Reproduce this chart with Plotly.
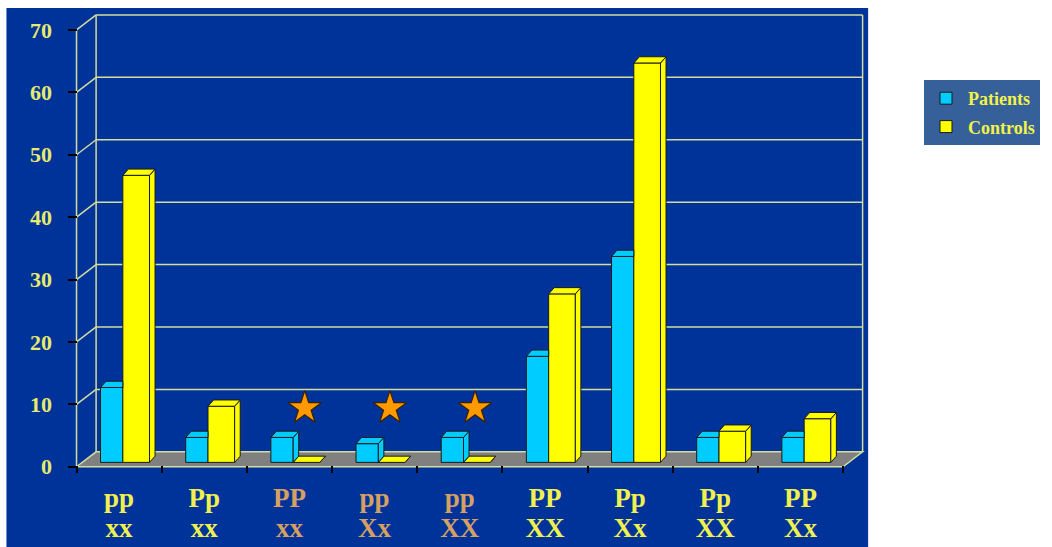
import plotly.graph_objects as go

# ---- data -------------------------------------------------------------
genotype_p = ["pp", "Pp", "PP", "pp", "pp", "PP", "Pp", "Pp", "PP"]
genotype_x = ["xx", "xx", "xx", "Xx", "XX", "XX", "Xx", "XX", "Xx"]
patients = [12, 4, 4, 3, 4, 17, 33, 4, 4]
controls = [46, 9, 0, 0, 0, 27, 64, 5, 7]
significant = [2, 3, 4]          # categories marked with a star
y_ticks = [0, 10, 20, 30, 40, 50, 60, 70]

# ---- styling / geometry ----------------------------------------------
PANEL = "#003399"
GRID = "#D2DE9E"
FLOOR = "#808080"
CYAN = "#00CCFF"
YELLOW = "#FFFF00"
EDGE = "#1A1A1A"
LABEL = "#F0F04E"
LABEL_ALT = "#D6A062"
AXIS_LABEL = "#E6EA6E"
FONT = "Liberation Serif"

W, H = 1052, 547
X0PX, CATPX = 77.0, 85.1      # pixel of x=-0.5, pixels per category
Y0PX, UNITPX = 466.7, 6.24    # pixel of y=0, pixels per unit
DX, DY = 0.23, 2.4            # depth of the floor / walls (data units)
BDX, BDY = 0.065, 1.0         # depth of each column
BASE = 0.7                    # columns stand a little behind the front edge
P_OFF, P_W = -0.218, 0.262
C_OFF, C_W = 0.044, 0.313

n = len(patients)
idx = list(range(n))
xr = [-0.6, n - 0.5 + DX + 0.04]
yr = [-1.0, max(y_ticks) + DY + 0.15]
left = X0PX + (xr[0] + 0.5) * CATPX
right = X0PX + (xr[1] + 0.5) * CATPX
bottom = Y0PX - yr[0] * UNITPX
top = Y0PX - yr[1] * UNITPX


def px_to_paper_x(px):
    return (px - left) / (right - left)


def px_to_paper_y(py):
    return (bottom - py) / (bottom - top)


fig = go.Figure()

# front faces of the columns
fig.add_trace(go.Bar(
    x=idx, y=patients, base=BASE, offset=P_OFF, width=P_W, name="Patients",
    marker=dict(color=CYAN, line=dict(color=EDGE, width=1)),
    legendgroup="p", hoverinfo="skip"))
fig.add_trace(go.Bar(
    x=idx, y=controls, base=BASE, offset=C_OFF, width=C_W, name="Controls",
    marker=dict(color=YELLOW, line=dict(color=EDGE, width=1)),
    legendgroup="c", hoverinfo="skip"))


def faces(values, off, width, hidden_by=None):
    tx, ty, sx, sy = [], [], [], []
    for i, v in enumerate(values):
        xl = i + off
        xrr = xl + width
        t = BASE + v
        covered = hidden_by is not None and hidden_by[i] >= v
        if covered:
            tx += [xl, xrr, xrr, xl + BDX, xl, None]
            ty += [t, t, t + BDY, t + BDY, t, None]
        else:
            tx += [xl, xrr, xrr + BDX, xl + BDX, xl, None]
            ty += [t, t, t + BDY, t + BDY, t, None]
            sx += [xrr, xrr + BDX, xrr + BDX, xrr, xrr, None]
            sy += [BASE, BASE + BDY, t + BDY, t, BASE, None]
    return tx, ty, sx, sy


def add_faces(values, off, width, color, hidden_by=None):
    tx, ty, sx, sy = faces(values, off, width, hidden_by)
    for xs, ys in ((sx, sy), (tx, ty)):
        if xs:
            fig.add_trace(go.Scatter(
                x=xs, y=ys, mode="lines", fill="toself", fillcolor=color,
                line=dict(color=EDGE, width=1), showlegend=False,
                hoverinfo="skip"))


add_faces(controls, C_OFF, C_W, YELLOW)
add_faces(patients, P_OFF, P_W, CYAN, hidden_by=controls)

# significance stars
fig.add_trace(go.Scatter(
    x=[i + 0.18 for i in significant], y=[9.4] * len(significant),
    mode="markers", showlegend=False, hoverinfo="skip",
    marker=dict(symbol="star", size=25, color="#FF9900",
                line=dict(color="#3A2200", width=1.2))))

# second line of the category labels lives on an overlaid axis
fig.add_trace(go.Scatter(x=[0], y=[None], xaxis="x2", showlegend=False,
                         hoverinfo="skip"))

# ---- walls, floor, gridlines -----------------------------------------
shapes = [dict(type="rect", xref="paper", yref="paper", layer="below",
               x0=px_to_paper_x(7), x1=px_to_paper_x(868),
               y0=px_to_paper_y(549), y1=px_to_paper_y(8),
               fillcolor=PANEL, line=dict(width=0))]

xa, xb = -0.5, n - 0.5
shapes.append(dict(
    type="path", layer="below", xref="x", yref="y",
    path=f"M{xa},0 L{xb},0 L{xb + DX},{DY} L{xa + DX},{DY} Z",
    fillcolor=FLOOR, line=dict(color=GRID, width=1.5)))
for v in y_ticks[1:]:
    shapes.append(dict(type="line", layer="below", x0=xa + DX, x1=xb + DX,
                       y0=v + DY, y1=v + DY, line=dict(color=GRID, width=1.5)))
    shapes.append(dict(type="line", layer="below", x0=xa, x1=xa + DX,
                       y0=v, y1=v + DY, line=dict(color=GRID, width=1.5)))
ymax = max(y_ticks)
shapes.append(dict(type="line", layer="below", x0=xa, x1=xa, y0=0, y1=ymax,
                   line=dict(color=GRID, width=1.5)))
shapes.append(dict(type="line", layer="below", x0=xa + DX, x1=xa + DX,
                   y0=DY, y1=ymax + DY, line=dict(color=GRID, width=1.5)))
shapes.append(dict(type="line", layer="below", x0=xb + DX, x1=xb + DX,
                   y0=DY, y1=ymax + DY, line=dict(color=GRID, width=1.5)))

tone = [LABEL_ALT if i in significant else LABEL for i in idx]
text1 = [f"<span style='color:{c}'>{t}</span>" for t, c in zip(genotype_p, tone)]
text2 = [f"<span style='color:{c}'>{t}</span>" for t, c in zip(genotype_x, tone)]
xfont = dict(family=FONT, size=27, color=LABEL, weight="bold")

fig.update_layout(
    width=W, height=H,
    margin=dict(l=left, r=W - right, t=top, b=H - bottom, pad=0,
                autoexpand=False),
    paper_bgcolor="white", plot_bgcolor="rgba(0,0,0,0)",
    barmode="overlay", shapes=shapes, showlegend=True,
    xaxis=dict(range=xr, tickmode="array", tickvals=idx, ticktext=text1,
               ticks="", showgrid=False, zeroline=False, showline=False,
               automargin=False, tickfont=xfont, ticklabelstandoff=6,
               minor=dict(tickmode="array",
                          tickvals=[i - 0.5 for i in range(n + 1)],
                          ticks="inside", ticklen=7, tickwidth=1.5,
                          tickcolor="black", showgrid=False)),
    xaxis2=dict(overlaying="x", anchor="y", side="bottom", range=xr,
                tickmode="array", tickvals=idx, ticktext=text2, ticks="",
                showgrid=False, zeroline=False, showline=False,
                automargin=False, tickfont=xfont, ticklabelstandoff=36),
    yaxis=dict(range=yr, tickmode="array", tickvals=y_ticks,
               ticktext=[str(v) for v in y_ticks], ticks="inside",
               ticklen=X0PX - left, tickwidth=1.5, tickcolor="black",
               showgrid=False, zeroline=False, showline=False,
               automargin=False,
               tickfont=dict(family=FONT, size=22, color=AXIS_LABEL,
                             weight="bold"),
               ticklabelstandoff=15),
    legend=dict(xref="container", yref="container", x=924 / W,
                y=1 - 80 / H, xanchor="left", yanchor="top",
                bgcolor="#36609A", borderwidth=0, traceorder="grouped",
                tracegroupgap=2, itemwidth=34,
                font=dict(family=FONT, size=18, color="#F2F24A",
                          weight="bold")),
)

fig.write_html("out.html")
